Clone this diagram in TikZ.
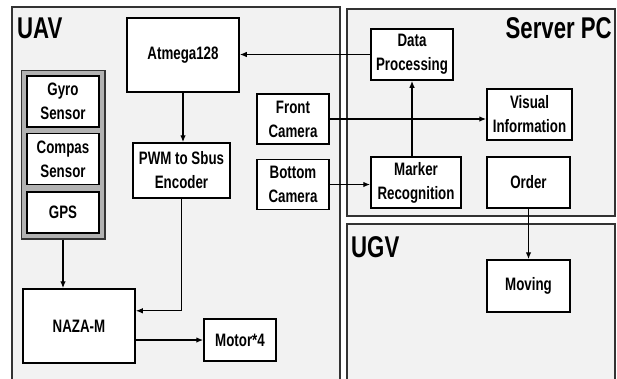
\documentclass[tikz,border=0pt]{standalone}
\usepackage{fontspec}
\setmainfont{Liberation Sans}[FakeStretch=0.74]
\usetikzlibrary{arrows.meta, positioning, calc, fit, backgrounds}

\begin{document}
\begin{tikzpicture}[
        x=1pt, y=-1pt,
        panel/.style={draw=black!80, line width=1.4pt, fill=black!5},
        title/.style={font=\bfseries\fontsize{30}{31}\selectfont, inner sep=0pt},
        blk/.style={rectangle, draw, line width=1.5pt, fill=white, align=center, inner sep=1pt, font=\bfseries\fontsize{18}{24}\selectfont},
        group/.style={rectangle, draw=black!80, line width=1.5pt, fill=black!30},
        link/.style={-{Latex[length=7pt, width=5.5pt]}, line width=1.3pt}
    ]
    \clip (0,0) rectangle (617,378);

    % UAV side
    \node[blk, minimum width=112pt, minimum height=74pt] (atmega) at (183,55) {Atmega128};
    \node[blk, minimum width=97pt, minimum height=55pt] (encoder) at (181.5,170.5) {PWM to Sbus\\Encoder};
    \node[blk, minimum width=72pt, minimum height=51pt] (gyro) at (63,101.5) {Gyro\\Sensor};
    \node[blk, minimum width=72pt, minimum height=51pt, below=5pt of gyro] (compas) {Compas\\Sensor};
    \node[blk, minimum width=72pt, minimum height=41pt, below=6pt of compas] (gps) {GPS};
    \node[blk, minimum width=112pt, minimum height=74pt] (naza) at (79,326) {NAZA-M};
    \node[blk, minimum width=72pt, minimum height=42pt] (motor) at (240,340) {Motor*4};
    \node[blk, minimum width=72pt, minimum height=50pt] (front) at (293,119) {Front\\Camera};
    \node[blk, minimum width=72pt, minimum height=50pt, below=14pt of front] (bottom) {Bottom\\Camera};

    % Server PC and UGV side
    \node[blk, minimum width=82pt, minimum height=51pt] (data) at (412,54.5) {Data\\Processing};
    \node[blk, minimum width=85pt, minimum height=51pt] (visual) at (529.5,114.5) {Visual\\Information};
    \node[blk, minimum width=90pt, minimum height=51pt] (marker) at (416,182.5) {Marker\\Recognition};
    \node[blk, minimum width=83pt, minimum height=51pt] (order) at (528.5,182.5) {Order};
    \node[blk, minimum width=83pt, minimum height=52pt] (moving) at (528.5,286) {Moving};

    \begin{scope}[on background layer]
        \draw[panel] (12,7) rectangle (340,400);
        \draw[panel] (347,9) rectangle (615,216);
        \draw[panel] (347,224) rectangle (615,400);
        \node[group, fit=(gyro)(compas)(gps), inner sep=5pt] (sensors) {};
    \end{scope}

    \node[title, anchor=base west] (uav) at (17,38) {UAV};
    \node[title, anchor=base east] (server) at (612,38) {Server PC};
    \node[title, anchor=base west] (ugv) at (351,257) {UGV};

    \draw[link] (data.west) -- (data.west -| atmega.east);
    \draw[link] (atmega.south) -- (atmega.south |- encoder.north);
    \draw[link] (sensors.south) -- (sensors.south |- naza.north);
    \draw[link] (encoder.south) |- (naza.15);
    \draw[link] (motor.west -| naza.east) -- (motor.west);
    \draw[link] (front.east) -- (front.east -| visual.west);
    \draw[link] (bottom.east) -- (bottom.east -| marker.west);
    \draw[link] (marker.north -| data.south) -- (data.south);
    \draw[link] (order.south) -- (moving.north);

\end{tikzpicture}
\end{document}
